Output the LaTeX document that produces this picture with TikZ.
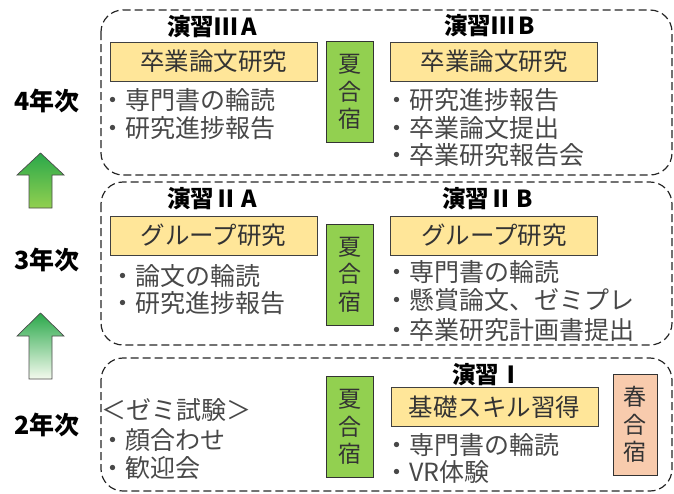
\documentclass[tikz,border=0pt]{standalone}
\usepackage{fontspec}
\setmainfont{Noto Sans CJK JP}
\definecolor{topicyellow}{HTML}{FFE699}
\definecolor{campgreen}{HTML}{92D050}
\definecolor{camporange}{HTML}{F8CBAD}
\definecolor{listgray}{HTML}{484848}
\definecolor{arrowdark}{HTML}{2AA84A}
\definecolor{arrowmid}{HTML}{76DC72}
\definecolor{arrowlow}{HTML}{92D050}
\definecolor{arrowpale}{HTML}{F4FAEE}
\begin{document}
\begin{tikzpicture}[x=1pt,y=-1pt,
  yearbox/.style={draw=black!85, line width=1.2pt, dash pattern=on 8pt off 4pt, rounded corners=22pt},
  yearlabel/.style={anchor=west, inner sep=0pt, font=\fontsize{25}{27}\selectfont\bfseries, text=black},
  title/.style={anchor=west, inner sep=0pt, font=\fontsize{23.5}{25}\selectfont\bfseries, text=black},
  topic/.style={draw=black!75, line width=1pt, fill=topicyellow, font=\fontsize{24.5}{26}\selectfont, text=black!80, minimum width=207pt, minimum height=39pt, inner sep=0pt},
  camp/.style={draw=black!80, line width=1pt, minimum width=47pt, minimum height=101pt, inner sep=0pt, font=\fontsize{23}{27.5}\selectfont, text=black!80, align=center},
  item/.style={anchor=west, inner sep=0pt, text height=22pt, text depth=3pt, font=\fontsize{25}{27}\selectfont, text=listgray},
  uparrow/.style={draw=black!70, line width=0.7pt}
]
\useasboundingbox (0,0) rectangle (674,493);

% dashed year boxes
\draw[yearbox] (101,10) rectangle (672,175);
\draw[yearbox] (101,182) rectangle (672,345);
\draw[yearbox] (101,358) rectangle (672,491);

% year labels
\node[yearlabel] (y4) at (14,101) {4年次};
\node[yearlabel] (y3) at (14,260) {3年次};
\node[yearlabel] (y2) at (14,425) {2年次};

% arrows
\shade[uparrow, top color=arrowdark, middle color=arrowmid, bottom color=arrowlow]
  (40.5,153) -- (64,175) -- (52,175) -- (52,208) -- (29,208) -- (29,175) -- (17,175) -- cycle;
\shade[uparrow, top color=arrowdark, middle color=arrowlow, bottom color=arrowpale]
  (40.5,313) -- (64,336) -- (52,336) -- (52,379) -- (29,379) -- (29,336) -- (17,336) -- cycle;

% 4th year
\node[title] (t3a) at (167,27) {演習Ⅲ\hspace{4pt}A};
\node[title] (t3b) at (444,26) {演習Ⅲ\hspace{4pt}B};
\node[topic] (k4a) at (213.5,61.5) {卒業論文研究};
\node[topic] (k4b) at (494,61.5) {卒業論文研究};
\node[camp, fill=campgreen] (c4) at (349.5,92) {夏\\合\\宿};
\node[item] (i4a1) at (100,100) {・専門書の輪読};
\node[item] (i4a2) at (100,128) {・研究進捗報告};
\node[item] (i4b1) at (384,100) {・研究進捗報告};
\node[item] (i4b2) at (384,128) {・卒業論文提出};
\node[item] (i4b3) at (384,155) {・卒業研究報告会};

% 3rd year
\node[title] (t2a) at (167,199) {演習Ⅱ\hspace{4pt}A};
\node[title] (t2b) at (442,199) {演習Ⅱ\hspace{4pt}B};
\node[topic] (k3a) at (213.5,235.5) {グループ研究};
\node[topic] (k3b) at (494,235.5) {グループ研究};
\node[camp, fill=campgreen] (c3) at (349.5,274.5) {夏\\合\\宿};
\node[item] (i3a1) at (110,276) {・論文の輪読};
\node[item] (i3a2) at (110,303) {・研究進捗報告};
\node[item] (i3b1) at (384,272) {・専門書の輪読};
\node[item] (i3b2) at (384,300) {・懸賞論文、ゼミプレ};
\node[item] (i3b3) at (384,330) {・卒業研究計画書提出};

% 2nd year
\node[title] (t1) at (452,375) {演習Ⅰ};
\node[topic] (k2) at (494.5,407) {基礎スキル習得};
\node[camp, fill=campgreen] (c2) at (349.5,427) {夏\\合\\宿};
\node[camp, fill=camporange, minimum width=44pt] (c2s) at (635,424.5) {春\\合\\宿};
\node[item] (i2l0) at (101,410) {＜ゼミ試験＞};
\node[item] (i2l1) at (100,440) {・顔合わせ};
\node[item] (i2l2) at (100,468) {・歓迎会};
\node[item] (i2r1) at (384,445) {・専門書の輪読};
\node[item] (i2r2) at (384,472) {・VR体験};
\end{tikzpicture}
\end{document}
